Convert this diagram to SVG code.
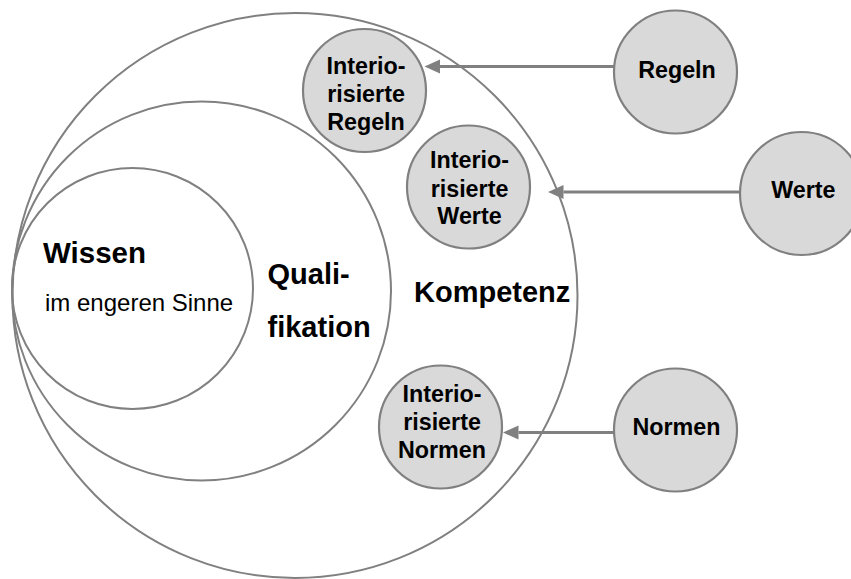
<svg xmlns="http://www.w3.org/2000/svg" width="851" height="579" viewBox="0 0 851 579">
  <style>
    .ring { fill: none; stroke: #808080; stroke-width: 2; }
    .node { fill: #d9d9d9; stroke: #808080; stroke-width: 2.2; }
    .lbl { font-family: "Liberation Sans", Arial, sans-serif; font-weight: bold; fill: #000; }
    .small { font-size: 23.3px; text-anchor: middle; }
    .big { font-size: 29px; }
    .reg { font-family: "Liberation Sans", Arial, sans-serif; font-size: 24px; fill: #000; }
    .conn { fill: none; stroke: #808080; stroke-width: 3.2; }
  </style>
  <defs>
    <marker id="arr" markerUnits="userSpaceOnUse" markerWidth="17" markerHeight="15" refX="0" refY="7" orient="auto">
      <path d="M0,0 L15.5,7 L0,14 Z" fill="#808080"/>
    </marker>
  </defs>
  <rect width="851" height="579" fill="#ffffff"/>

  <g id="kompetenz">
    <circle class="ring" cx="295" cy="295.5" r="282.5"/>
    <text class="lbl big" x="414" y="302">Kompetenz</text>
  </g>
  <g id="qualifikation">
    <circle class="ring" cx="201.5" cy="291" r="189.5"/>
    <text class="lbl big" x="267.5" y="283.5">Quali-</text>
    <text class="lbl big" x="267.5" y="337">fikation</text>
  </g>
  <g id="wissen">
    <circle class="ring" cx="132.5" cy="288.5" r="120.5"/>
    <text class="lbl" style="font-size:29.5px" x="43" y="263">Wissen</text>
    <text class="reg" x="45" y="311">im engeren Sinne</text>
  </g>

  <g id="connectors">
    <path class="conn" d="M614,66.5 L440,66.5" marker-end="url(#arr)"/>
    <path class="conn" d="M740,192 L563.5,192" marker-end="url(#arr)"/>
    <path class="conn" d="M614,432.5 L518.5,432.5" marker-end="url(#arr)"/>
  </g>

  <g id="int-regeln">
    <circle class="node" cx="364.5" cy="90.5" r="61.5"/>
    <text class="lbl small" x="366" y="74">Interio-</text>
    <text class="lbl small" x="366" y="102">risierte</text>
    <text class="lbl small" x="366" y="129.5">Regeln</text>
  </g>
  <g id="int-werte">
    <circle class="node" cx="468.5" cy="187" r="61.5"/>
    <text class="lbl small" x="469.5" y="168">Interio-</text>
    <text class="lbl small" x="469.5" y="196.5">risierte</text>
    <text class="lbl small" x="469.5" y="224">Werte</text>
  </g>
  <g id="int-normen">
    <circle class="node" cx="440.5" cy="427" r="61.5"/>
    <text class="lbl small" x="442" y="401.7">Interio-</text>
    <text class="lbl small" x="442" y="429.5">risierte</text>
    <text class="lbl small" x="442" y="458">Normen</text>
  </g>
  <g id="regeln">
    <circle class="node" cx="675.5" cy="72" r="61.5"/>
    <text class="lbl small" x="677" y="78">Regeln</text>
  </g>
  <g id="werte">
    <circle class="node" cx="801.5" cy="193.5" r="61.5"/>
    <text class="lbl small" x="803.3" y="198.3">Werte</text>
  </g>
  <g id="normen">
    <circle class="node" cx="675.5" cy="430" r="61.5"/>
    <text class="lbl small" x="676.5" y="435">Normen</text>
  </g>
</svg>
